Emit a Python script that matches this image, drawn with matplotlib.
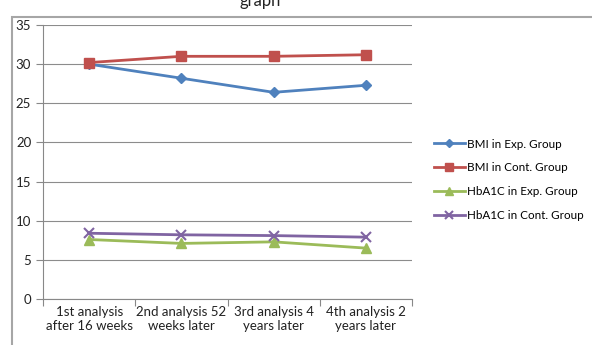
import matplotlib.pyplot as plt
from matplotlib.patches import Rectangle
import numpy as np

plt.rcParams['font.family'] = ['Lato', 'DejaVu Sans']

categories = ["1st analysis\nafter 16 weeks", "2nd analysis 52\nweeks later",
              "3rd analysis 4\nyears later", "4th analysis 2\nyears later"]
bmi_exp = [30.0, 28.2, 26.4, 27.3]
bmi_cont = [30.2, 31.0, 31.0, 31.2]
hba1c_exp = [7.6, 7.1, 7.3, 6.5]
hba1c_cont = [8.4, 8.2, 8.1, 7.9]

series = [
    ("BMI in Exp. Group", bmi_exp, "#4F81BD", "D", 5),
    ("BMI in Cont. Group", bmi_cont, "#C0504D", "s", 7),
    ("HbA1C in Exp. Group", hba1c_exp, "#9BBB59", "^", 7),
    ("HbA1C in Cont. Group", hba1c_cont, "#8064A2", "x", 7),
]

fig = plt.figure(figsize=(5.92, 3.45), dpi=100)
# outer chart frame
fig.patches.append(Rectangle((12 / 592, -0.1), 1.0, 1 - 17 / 345 + 0.1,
                             transform=fig.transFigure, fill=False,
                             edgecolor="#a6a6a6", linewidth=1.5))
fig.text(0.44, 0.996, "graph", ha="center", va="center", fontsize=12, color="#222222")

ax = fig.add_axes([43 / 592, 46 / 345, 369 / 592, 274 / 345])
x = np.arange(len(categories)) + 0.5
for label, vals, color, marker, ms in series:
    ax.plot(x, vals, color=color, marker=marker, markersize=ms, linewidth=2,
            markeredgewidth=1.5 if marker == "x" else 1, label=label)

ax.set_xlim(0, 4)
ax.set_ylim(0, 35)
ax.set_yticks(range(0, 36, 5))
ax.set_xticks(range(5))
ax.set_xticklabels([])
ax.set_xticks(x, minor=True)
ax.set_xticklabels(categories, minor=True, fontsize=9.5, color="#222222")
ax.tick_params(axis="x", which="minor", length=0, pad=5)
ax.tick_params(axis="x", which="major", length=5, color="#888888")
ax.tick_params(axis="y", length=5, color="#888888", labelsize=9.5, labelcolor="#222222")
ax.grid(axis="y", color="#8c8c8c", linewidth=0.8)
ax.set_axisbelow(True)
for s in ["top", "right"]:
    ax.spines[s].set_visible(False)
for s in ["left", "bottom"]:
    ax.spines[s].set_color("#888888")

ax.legend(loc="center left", bbox_to_anchor=(1.03, 0.435), frameon=False,
          fontsize=8.4, handlelength=2.7, handletextpad=0.15, labelspacing=1.1,
          markerscale=0.8)

fig.savefig("out.png", dpi=100)
